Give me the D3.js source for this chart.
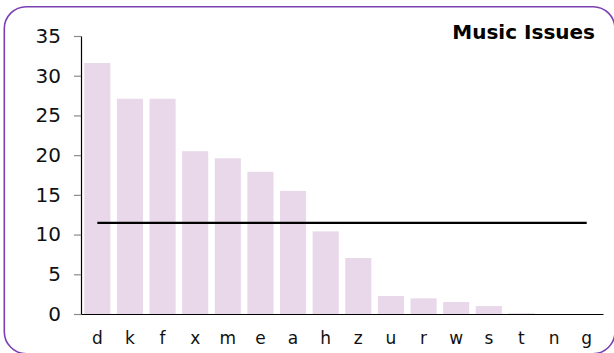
<!DOCTYPE html>
<html>
<head>
<meta charset="utf-8">
<script src="https://cdn.jsdelivr.net/npm/d3@7"></script>
<style>
  html, body { margin: 0; padding: 0; background: #fff; }
  svg { display: block; }
</style>
</head>
<body>
<svg id="chart" width="614" height="353"></svg>
<script>
// Issue counts per category, sorted high to low
const categories = ["d", "k", "f", "x", "m", "e", "a", "h", "z", "u", "r", "w", "s", "t", "n", "g"];
const values = [31.6, 27.1, 27.1, 20.5, 19.6, 17.9, 15.5, 10.4, 7.05, 2.27, 1.97, 1.51, 1.0, 0.1, 0, 0];
const yTicks = [0, 5, 10, 15, 20, 25, 30, 35];
const title = "Music Issues";

const svg = d3.select("#chart");
const W = 614, H = 353;
const margin = { left: 81, right: 11, top: 36, bottom: 39 };
const fontFamily = "Verdana, 'DejaVu Sans', sans-serif";

// Rounded frame around the chart
svg.append("rect")
  .attr("x", 4.3).attr("y", 6.7)
  .attr("width", 610.7).attr("height", 347)
  .attr("rx", 22).attr("ry", 22)
  .attr("fill", "#fff")
  .attr("stroke", "#7b3fb4")
  .attr("stroke-width", 1.6);

const x = d3.scaleBand()
  .domain(categories)
  .range([margin.left, W - margin.right])
  .paddingInner(0.2)
  .paddingOuter(0.1);

const y = d3.scaleLinear()
  .domain([0, 35])
  .range([H - margin.bottom, margin.top]);

// Bars
svg.append("g")
  .selectAll("rect")
  .data(categories.map((c, i) => ({ c, v: values[i] })))
  .join("rect")
  .attr("x", d => x(d.c))
  .attr("width", x.bandwidth())
  .attr("y", d => y(d.v))
  .attr("height", d => y(0) - y(d.v))
  .attr("fill", "#e9d8ea");

// Y axis
const yAxis = svg.append("g")
  .attr("transform", `translate(${margin.left},0)`)
  .call(d3.axisLeft(y).tickValues(yTicks).tickSize(7).tickPadding(13).tickSizeOuter(0));
yAxis.select(".domain").attr("stroke", "#000").attr("stroke-width", 1.2);
yAxis.selectAll(".tick line").attr("stroke", "#8a8a8a").attr("stroke-width", 1.2);
yAxis.selectAll(".tick text")
  .attr("fill", "#111")
  .style("font-family", fontFamily)
  .style("font-size", "20px");

// X axis
const xAxis = svg.append("g")
  .attr("transform", `translate(0,${y(0)})`)
  .call(d3.axisBottom(x).tickSize(0).tickPadding(18).tickSizeOuter(0));
xAxis.select(".domain").attr("stroke", "#000").attr("stroke-width", 1.2);
xAxis.selectAll(".tick text")
  .attr("fill", "#111")
  .style("font-family", fontFamily)
  .style("font-size", "17px");

// Average line across the categories
const mean = d3.mean(values);
svg.append("line")
  .attr("x1", x(categories[0]) + x.bandwidth() / 2)
  .attr("x2", x(categories[categories.length - 1]) + x.bandwidth() / 2)
  .attr("y1", y(mean)).attr("y2", y(mean))
  .attr("stroke", "#000")
  .attr("stroke-width", 2.2);

// Title
svg.append("text")
  .attr("x", 595).attr("y", 39)
  .attr("text-anchor", "end")
  .style("font-family", fontFamily)
  .style("font-size", "20px")
  .style("font-weight", "bold")
  .attr("fill", "#000")
  .text(title);
</script>
</body>
</html>
